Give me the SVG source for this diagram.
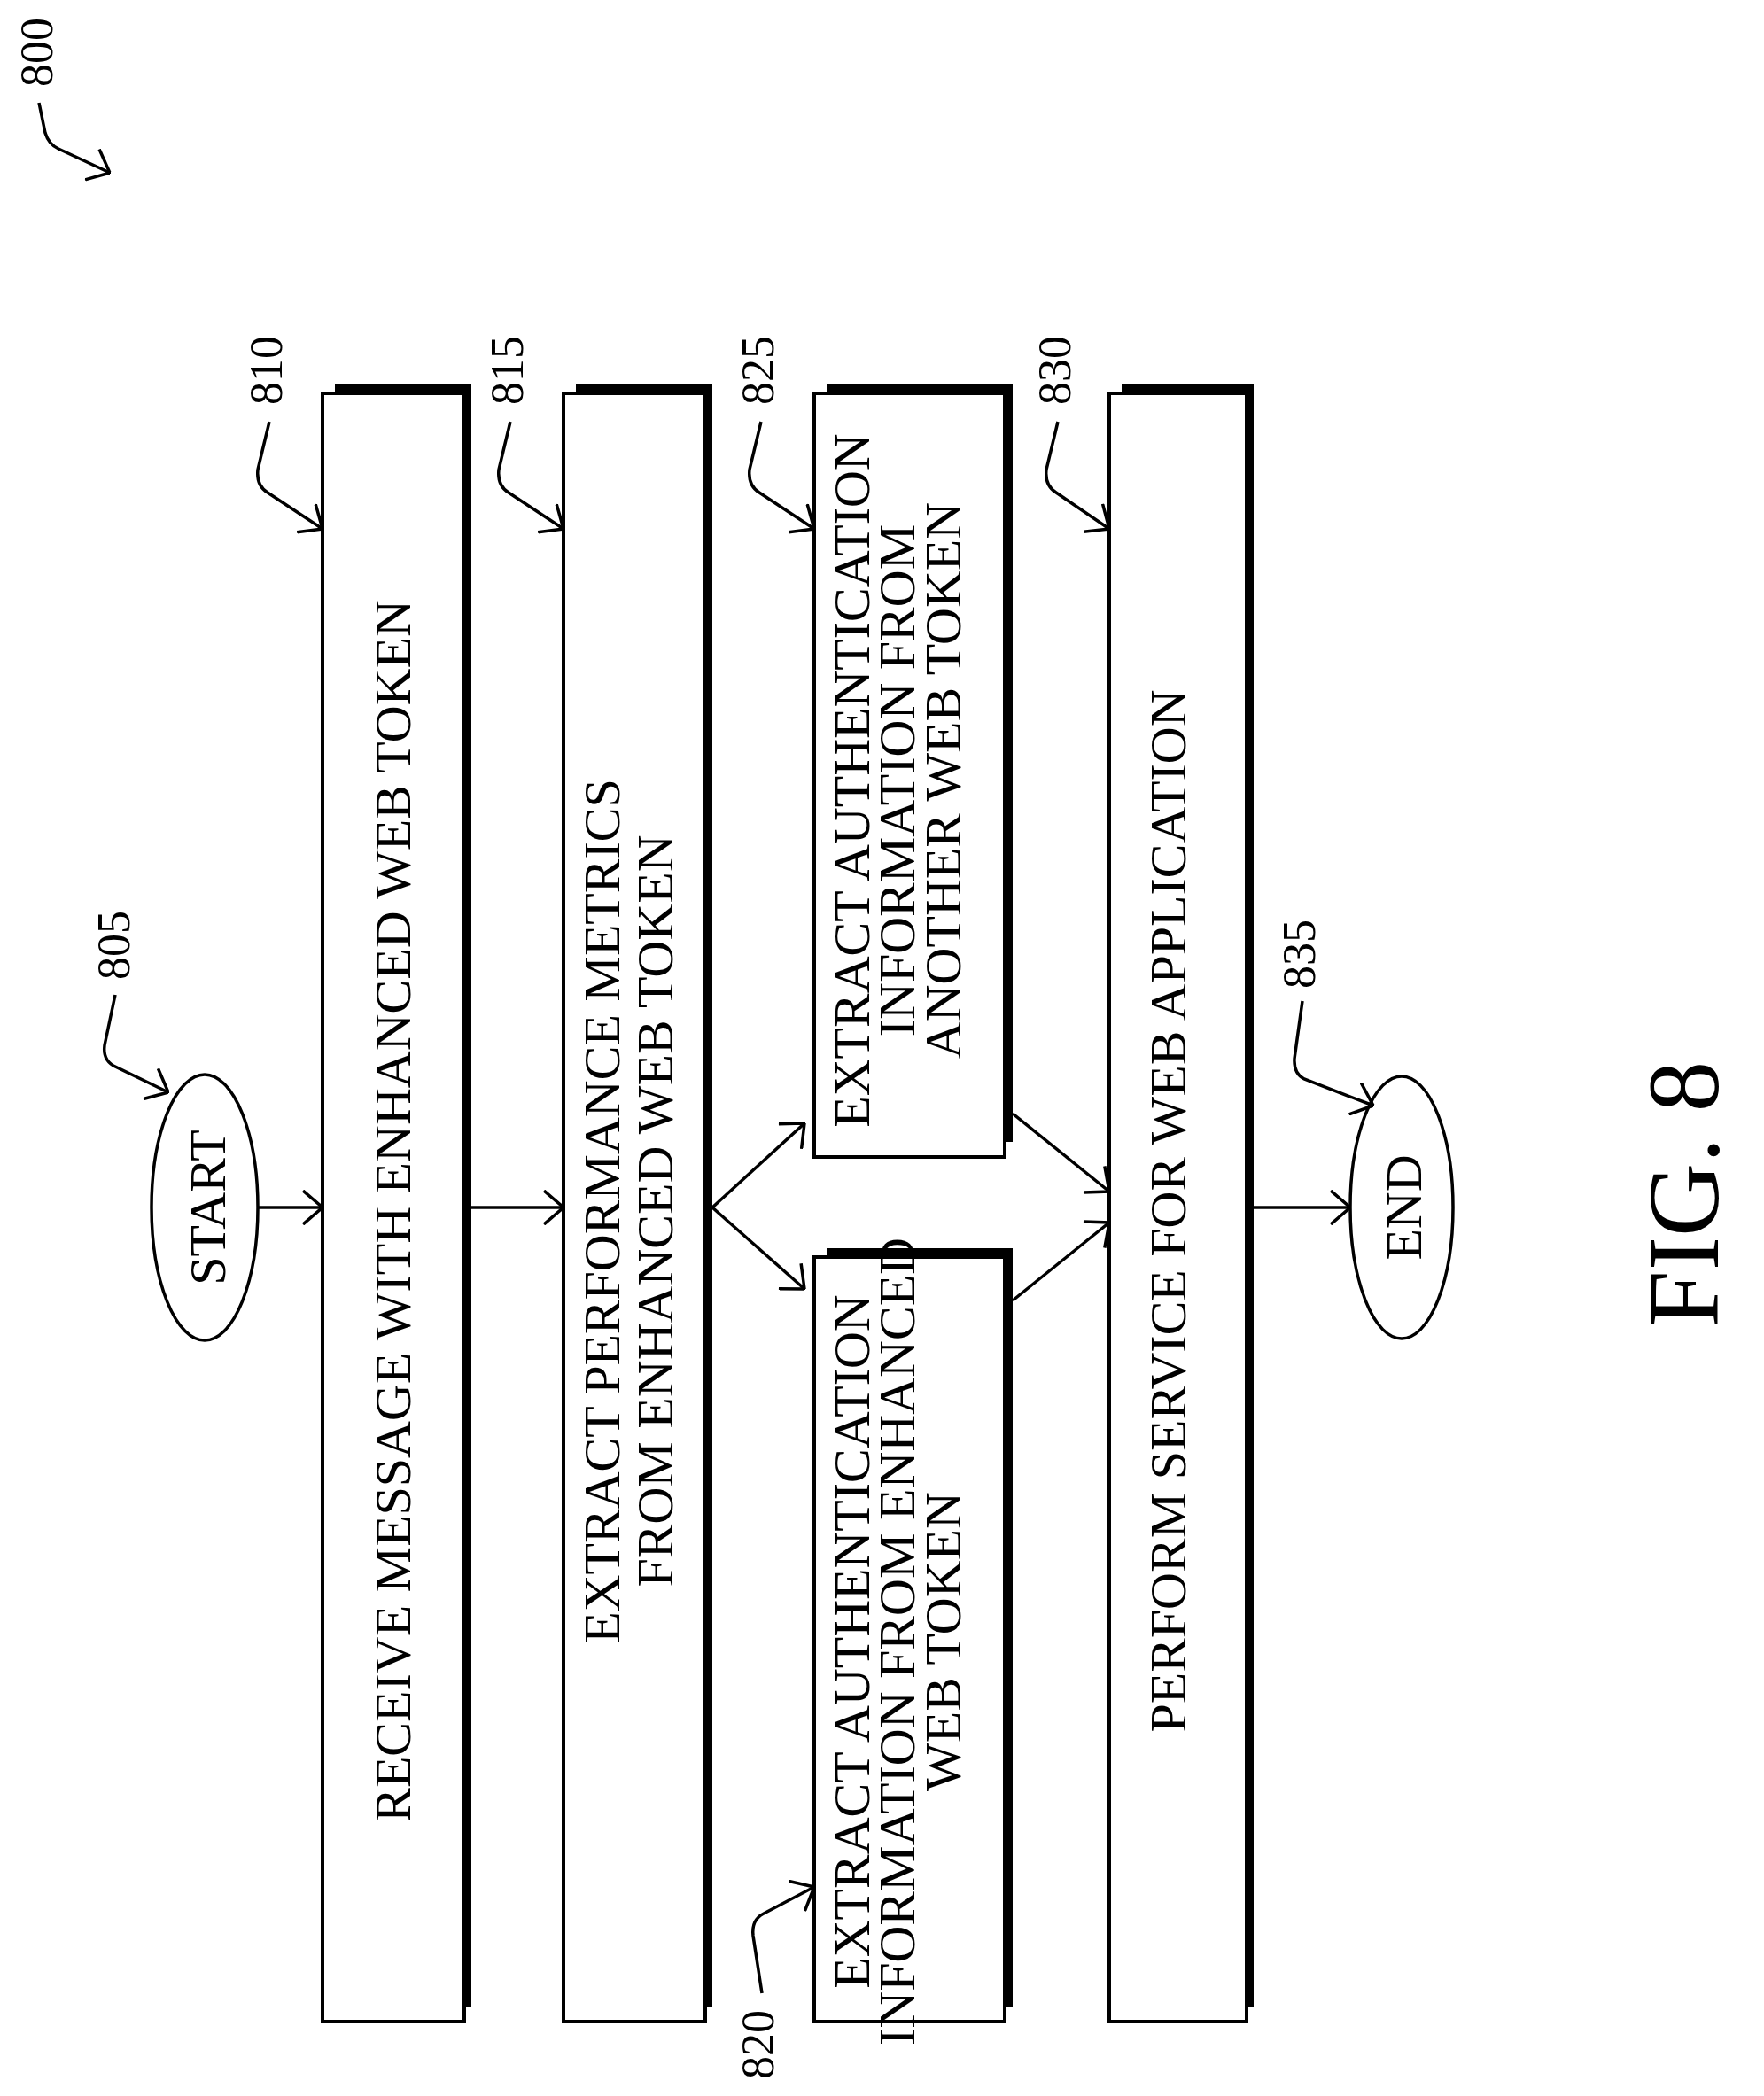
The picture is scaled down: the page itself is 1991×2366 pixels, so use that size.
<svg xmlns="http://www.w3.org/2000/svg" width="1991" height="2366" viewBox="0 0 1991 2366">
<style>
.box{fill:#fff;stroke:#000;stroke-width:4}
.sh{fill:#000}
.ln{fill:none;stroke:#000;stroke-width:3.5}
.t{font-family:"Liberation Serif","Times New Roman",serif;fill:#000;text-anchor:middle;dominant-baseline:central}
.m{font-size:58px}
.lab{font-size:52px}
</style>
<defs>
<marker id="ah" markerUnits="userSpaceOnUse" viewBox="0 0 24 40" refX="23" refY="20" markerWidth="24" markerHeight="40" orient="auto">
<path d="M1,1 L23,20 L1,39" fill="none" stroke="#000" stroke-width="3.5"/>
</marker>
</defs>
<rect width="1991" height="2366" fill="#fff"/>

<g id="n800">
<text class="t lab" transform="translate(41,59) rotate(-90)">800</text>
<path class="ln" d="M44,116 L51,150 Q55,163 66,168 L124,195" marker-end="url(#ah)"/>
</g>

<g id="n805">
<ellipse cx="231" cy="1363" rx="60" ry="150" fill="#fff" stroke="#000" stroke-width="3.5"/>
<text class="t m" transform="translate(234,1363) rotate(-90)">START</text>
<text class="t lab" transform="translate(128,1067) rotate(-90)">805</text>
<path class="ln" d="M130,1123 L118,1180 Q116,1196 128,1203 L190,1233" marker-end="url(#ah)"/>
</g>

<g id="n810">
<rect class="sh" x="378" y="434" width="154" height="12"/>
<rect class="sh" x="522" y="434" width="10" height="1831"/>
<rect class="box" x="364" y="444" width="160" height="1838"/>
<text class="t m" transform="translate(443,1367) rotate(-90)">RECEIVE MESSAGE WITH ENHANCED WEB TOKEN</text>
<text class="t lab" transform="translate(300,418) rotate(-90)">810</text>
<path class="ln" d="M304,476 L291,530 Q289,548 302,556 L364,597" marker-end="url(#ah)"/>
</g>

<g id="n815">
<rect class="sh" x="650" y="434" width="154" height="12"/>
<rect class="sh" x="794" y="434" width="10" height="1831"/>
<rect class="box" x="636" y="444" width="160" height="1838"/>
<text class="t m" transform="translate(679,1367) rotate(-90)">EXTRACT PERFORMANCE METRICS</text>
<text class="t m" transform="translate(739,1367) rotate(-90)">FROM ENHANCED WEB TOKEN</text>
<text class="t lab" transform="translate(572,418) rotate(-90)">815</text>
<path class="ln" d="M576,476 L563,530 Q561,548 574,556 L636,597" marker-end="url(#ah)"/>
</g>

<g id="n825">
<rect class="sh" x="933" y="434" width="210" height="12"/>
<rect class="sh" x="1133" y="434" width="10" height="855"/>
<rect class="box" x="919" y="444" width="215" height="862"/>
<text class="t m" transform="translate(961,881) rotate(-90)">EXTRACT AUTHENTICATION</text>
<text class="t m" transform="translate(1012,881) rotate(-90)">INFORMATION FROM</text>
<text class="t m" transform="translate(1064,881) rotate(-90)">ANOTHER WEB TOKEN</text>
<text class="t lab" transform="translate(855,418) rotate(-90)">825</text>
<path class="ln" d="M859,476 L846,530 Q844,548 857,556 L919,597" marker-end="url(#ah)"/>
</g>

<g id="n820">
<rect class="sh" x="933" y="1409" width="210" height="12"/>
<rect class="sh" x="1133" y="1409" width="10" height="856"/>
<rect class="box" x="919" y="1419" width="215" height="863"/>
<text class="t m" transform="translate(961,1853) rotate(-90)">EXTRACT AUTHENTICATION</text>
<text class="t m" transform="translate(1012,1853) rotate(-90)">INFORMATION FROM ENHANCED</text>
<text class="t m" transform="translate(1064,1853) rotate(-90)">WEB TOKEN</text>
<text class="t lab" transform="translate(855,2308) rotate(-90)">820</text>
<path class="ln" d="M860,2250 L850,2185 Q848,2167 862,2160 L919,2130" marker-end="url(#ah)"/>
</g>

<g id="n830">
<rect class="sh" x="1266" y="434" width="149" height="12"/>
<rect class="sh" x="1405" y="434" width="10" height="1831"/>
<rect class="box" x="1252" y="444" width="155" height="1838"/>
<text class="t m" transform="translate(1318,1367) rotate(-90)">PERFORM SERVICE FOR WEB APPLICATION</text>
<text class="t lab" transform="translate(1190,418) rotate(-90)">830</text>
<path class="ln" d="M1194,476 L1181,530 Q1179,548 1192,556 L1252,597" marker-end="url(#ah)"/>
</g>

<g id="n835">
<ellipse cx="1582" cy="1363" rx="58" ry="148" fill="#fff" stroke="#000" stroke-width="3.5"/>
<text class="t m" transform="translate(1584,1363) rotate(-90)">END</text>
<text class="t lab" transform="translate(1466,1077) rotate(-90)">835</text>
<path class="ln" d="M1470,1130 L1461,1195 Q1460,1212 1472,1218 L1550,1248" marker-end="url(#ah)"/>
</g>

<g id="fig">
<text class="t" style="font-size:115px" transform="translate(1900,1348) rotate(-90)">FIG. 8</text>
</g>

<g id="connectors">
<path class="ln" d="M291,1363 L364,1363" marker-end="url(#ah)"/>
<path class="ln" d="M532,1363 L636,1363" marker-end="url(#ah)"/>
<path class="ln" d="M804,1363 L908,1268" marker-end="url(#ah)"/>
<path class="ln" d="M804,1363 L908,1455" marker-end="url(#ah)"/>
<path class="ln" d="M1143,1257 L1252,1345" marker-end="url(#ah)"/>
<path class="ln" d="M1143,1468 L1252,1380" marker-end="url(#ah)"/>
<path class="ln" d="M1415,1363 L1524,1363" marker-end="url(#ah)"/>
</g>
</svg>
